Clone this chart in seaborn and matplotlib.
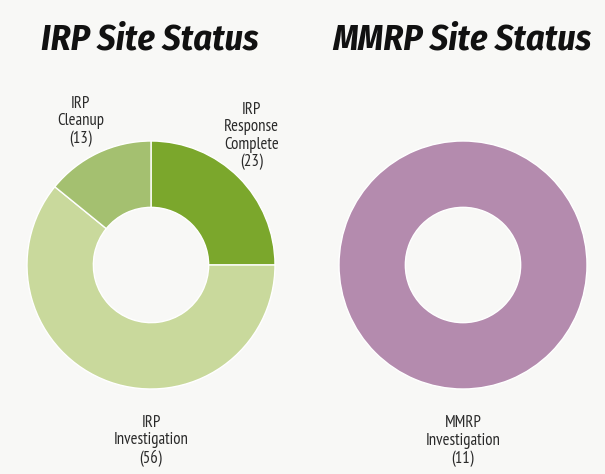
import matplotlib
matplotlib.use("Agg")
import matplotlib.pyplot as plt
import seaborn as sns

# site counts
irp_labels = ['IRP\nResponse\nComplete\n(23)', 'IRP\nInvestigation\n(56)', 'IRP\nCleanup\n(13)']
irp_counts = [23, 56, 13]
irp_colors = ['#7ba72c', '#c9d99c', '#a4c070']

mmrp_labels = ['MMRP\nInvestigation\n(11)']
mmrp_counts = [11]
mmrp_colors = ['#b48bae']

sns.set_theme(style="white")
plt.rcParams['font.family'] = ['PT Sans Narrow', 'DejaVu Sans']

bg = '#f8f8f6'
fig = plt.figure(figsize=(6.05, 4.74), dpi=100, facecolor=bg)

R = 124.0  # outer radius in pixels
W, H = 605, 474


def donut(cx, cy, counts, colors):
    half = 1.3 * R
    ax = fig.add_axes([(cx - half) / W, (H - cy - half) / H, 2 * half / W, 2 * half / H])
    ax.pie(counts, colors=colors, startangle=90, counterclock=False, radius=1,
           wedgeprops=dict(width=0.535, edgecolor='white', linewidth=1))
    ax.set_xlim(-1.3, 1.3)
    ax.set_ylim(-1.3, 1.3)
    ax.set_aspect('equal')
    ax.axis('off')
    return ax


label_kw = dict(ha='center', va='center', fontsize=12, color='#2a2a2a',
                linespacing=1.12, clip_on=False)

ax1 = donut(151, 265, irp_counts, irp_colors)
label_pos = [(0.81, 1.04), (0.0, -1.42), (-0.57, 1.16)]
for lab, (x, y) in zip(irp_labels, label_pos):
    ax1.text(x, y, lab, **label_kw)

ax2 = donut(463, 265, mmrp_counts, mmrp_colors)
ax2.text(0.0, -1.42, mmrp_labels[0], **label_kw)

title_kw = dict(ha='center', va='center', fontsize=26, fontweight='bold',
                fontstyle='italic', color='#111111',
                family=['Fira Sans Condensed', 'DejaVu Sans'])
fig.text(150 / W, 1 - 40 / H, 'IRP Site Status', **title_kw)
fig.text(462 / W, 1 - 40 / H, 'MMRP Site Status', **title_kw)

fig.savefig('out.png', dpi=100, facecolor=bg)
